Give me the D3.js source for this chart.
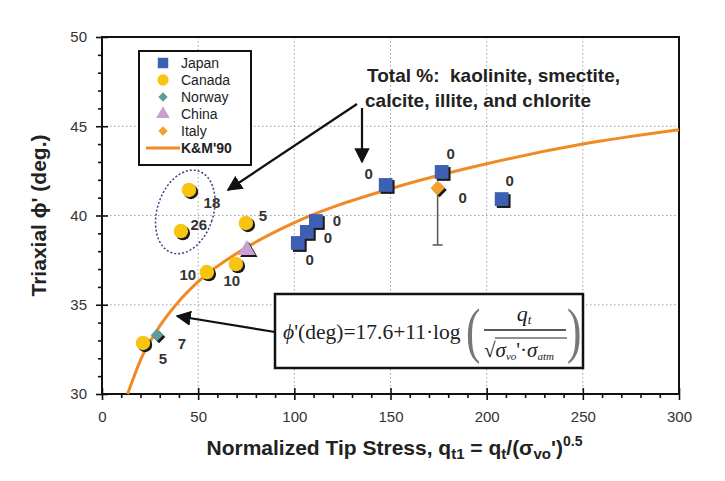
<!DOCTYPE html>
<html>
<head>
    <title>Triaxial phi vs Normalized Tip Stress</title>
    <script src="https://cdnjs.cloudflare.com/ajax/libs/d3/7.8.5/d3.min.js"></script>
    <style>
        body { margin: 0; background: #fff; }
        svg { font-family: Arial, "Liberation Sans", sans-serif; }
        .grid line { stroke: #9aa0b0; stroke-width: 1; stroke-dasharray: 1.5,2.5; }
        .axis path { display: none; }
        .axis line { stroke: #111; stroke-width: 1.6; }
        .axis text { font-size: 15px; fill: #333; }
        .ptlabel { font-size: 15px; font-weight: bold; fill: #333; }
    </style>
</head>
<body>
<div id="chart"></div>
<script>
// ---- data ----
const japanX = [101.8, 106.5, 111.2, 147.5, 176.6, 207.8];
const japanY = [38.46, 39.08, 39.69, 41.71, 42.44, 40.92];
const japanLabels = ["0", "0", "0", "0", "0", "0"];

const canadaX = [45.2, 41.0, 74.8, 69.6, 54.5, 21.3];
const canadaY = [41.43, 39.13, 39.58, 37.28, 36.83, 32.86];
const canadaLabels = ["18", "26", "5", "10", "10", "5"];

const norwayX = [28.6];
const norwayY = [33.3];
const norwayLabels = ["7"];

const chinaX = [75.3];
const chinaY = [38.07];

const italyX = [174.5];
const italyY = [41.54];
const italyLow = [38.35];
const italyLabels = ["0"];

// K&M'90 curve, points
const kmX = [13.3, 15, 20, 30, 40, 50, 75, 100, 150, 200, 250, 300];
const kmY = [30.0, 30.5, 31.9, 33.8, 35.2, 36.3, 38.2, 39.6, 41.5, 42.9, 44.0, 44.8];

const xTicks = [0, 50, 100, 150, 200, 250, 300];
const yTicks = [30, 35, 40, 45, 50];

// label offsets in px (dx, dy) for each point label
const japanOff = [[12, 17], [21, 6], [21, -1], [-17, -11], [9, -18], [8, -19]];
const canadaOff = [[23, 13], [18, -7], [17, -7], [-4, 16], [-19, 2], [20, 16]];
const norwayOff = [[25, 8]];
const italyOff = [[25, 9]];

// ---- layout ----
const W = 725, H = 481;
const pLeft = 102, pRight = 679, pTop = 37, pBottom = 394;

const svg = d3.select("#chart").append("svg")
    .attr("width", W).attr("height", H);

const x = d3.scaleLinear().domain([0, 300]).range([pLeft, pRight]);
const y = d3.scaleLinear().domain([30, 50]).range([pBottom, pTop]);

// grid
const grid = svg.append("g").attr("class", "grid");
grid.selectAll(".gx").data(xTicks.slice(1, -1)).enter().append("line")
    .attr("x1", d => x(d)).attr("x2", d => x(d))
    .attr("y1", pTop).attr("y2", pBottom);
grid.selectAll(".gy").data(yTicks.slice(1, -1)).enter().append("line")
    .attr("x1", pLeft).attr("x2", pRight)
    .attr("y1", d => y(d)).attr("y2", d => y(d));

// axes
const xMinor = d3.range(0, 301, 10).filter(v => v % 50 !== 0);
const yMinor = d3.range(30, 51, 1).filter(v => v % 5 !== 0);

const xAx = svg.append("g").attr("class", "axis")
    .attr("transform", `translate(0,${pBottom})`)
    .call(d3.axisBottom(x).tickValues(xTicks).tickSize(6).tickPadding(11));
xAx.selectAll(".tick line").attr("y1", -6);
svg.append("g").attr("class", "axis")
    .attr("transform", `translate(0,${pBottom})`)
    .call(d3.axisBottom(x).tickValues(xMinor).tickSize(4).tickFormat(""));

const yAx = svg.append("g").attr("class", "axis")
    .attr("transform", `translate(${pLeft},0)`)
    .call(d3.axisLeft(y).tickValues(yTicks).tickSize(6).tickPadding(9));
yAx.selectAll(".tick line").attr("x1", 6);
svg.append("g").attr("class", "axis")
    .attr("transform", `translate(${pLeft},0)`)
    .call(d3.axisLeft(y).tickValues(yMinor).tickSize(4).tickFormat(""));

// plot frame
svg.append("rect")
    .attr("x", pLeft).attr("y", pTop)
    .attr("width", pRight - pLeft).attr("height", pBottom - pTop)
    .attr("fill", "none").attr("stroke", "#111").attr("stroke-width", 2);

// axis titles
const xt = svg.append("text")
    .attr("x", (pLeft + pRight) / 2 + 4).attr("y", 455)
    .attr("text-anchor", "middle")
    .style("font-size", "21px").style("font-weight", "bold").style("fill", "#222");
xt.append("tspan").text("Normalized Tip Stress, q");
xt.append("tspan").attr("baseline-shift", "-25%").style("font-size", "15px").text("t1");
xt.append("tspan").text(" = q");
xt.append("tspan").attr("baseline-shift", "-25%").style("font-size", "15px").text("t");
xt.append("tspan").text("/(σ");
xt.append("tspan").attr("baseline-shift", "-25%").style("font-size", "15px").text("vo");
xt.append("tspan").text("')");
xt.append("tspan").attr("baseline-shift", "65%").style("font-size", "14px").text("0.5");

svg.append("text")
    .attr("transform", `translate(46,${(pTop + pBottom) / 2}) rotate(-90)`)
    .attr("text-anchor", "middle")
    .style("font-size", "21px").style("font-weight", "bold").style("fill", "#222")
    .text("Triaxial ϕ' (deg.)");

// clip for curve
svg.append("clipPath").attr("id", "plotclip").append("rect")
    .attr("x", pLeft).attr("y", pTop).attr("width", pRight - pLeft).attr("height", pBottom - pTop + 4);

const kmData = kmX.map((v, i) => [v, kmY[i]]);
svg.append("path")
    .datum(kmData)
    .attr("clip-path", "url(#plotclip)")
    .attr("fill", "none").attr("stroke", "#f08a24").attr("stroke-width", 3)
    .attr("d", d3.line().x(d => x(d[0])).y(d => y(d[1])).curve(d3.curveMonotoneX));

// ellipse around Canada points
svg.append("ellipse")
    .attr("transform", `translate(${x(43.3)},${y(40.2)}) rotate(18)`)
    .attr("rx", 28).attr("ry", 43)
    .attr("fill", "none").attr("stroke", "#3a3f8a").attr("stroke-width", 1.5)
    .attr("stroke-dasharray", "2,2");

// arrowhead marker
svg.append("defs").append("marker")
    .attr("id", "arrow").attr("viewBox", "0 0 10 10")
    .attr("refX", 9).attr("refY", 5)
    .attr("markerWidth", 7).attr("markerHeight", 7)
    .attr("orient", "auto")
    .append("path").attr("d", "M0,0 L10,5 L0,10 Z").attr("fill", "#111");

function arrow(x1, y1, x2, y2) {
    svg.append("line")
        .attr("x1", x1).attr("y1", y1).attr("x2", x2).attr("y2", y2)
        .attr("stroke", "#111").attr("stroke-width", 2.2)
        .attr("marker-end", "url(#arrow)");
}
arrow(357, 104, 228, 190);
arrow(362, 108, 362, 162);
arrow(275, 332, 177, 316);

// italy error bar
svg.selectAll(".err").data(italyX).enter().append("g").each(function(d, i) {
    const g = d3.select(this);
    g.append("line").attr("x1", x(d)).attr("x2", x(d))
        .attr("y1", y(italyY[i])).attr("y2", y(italyLow[i]))
        .attr("stroke", "#555").attr("stroke-width", 1.5);
    g.append("line").attr("x1", x(d) - 5).attr("x2", x(d) + 5)
        .attr("y1", y(italyLow[i])).attr("y2", y(italyLow[i]))
        .attr("stroke", "#555").attr("stroke-width", 1.5);
});

// marker drawing
const shadow = "#1a1a1a";
const rhombus = d3.symbolDiamond2 || d3.symbolDiamond;
function drawSymbols(xs, ys, sym, size, fill) {
    const pts = xs.map((v, i) => [x(v), y(ys[i])]);
    const g = svg.append("g");
    const path = d3.symbol().type(sym).size(size)();
    g.selectAll(".sh").data(pts).enter().append("path")
        .attr("d", path).attr("fill", shadow)
        .attr("transform", d => `translate(${d[0] + 2},${d[1] + 2})`);
    g.selectAll(".pt").data(pts).enter().append("path")
        .attr("d", path).attr("fill", fill)
        .attr("transform", d => `translate(${d[0]},${d[1]})`);
}
function drawLabels(xs, ys, labels, offs) {
    svg.append("g").selectAll("text").data(labels).enter().append("text")
        .attr("class", "ptlabel")
        .attr("x", (d, i) => x(xs[i]) + offs[i][0])
        .attr("y", (d, i) => y(ys[i]) + offs[i][1])
        .attr("text-anchor", "middle").attr("dominant-baseline", "central")
        .text(d => d);
}

drawSymbols(japanX, japanY, d3.symbolSquare, 190, "#3d5fb4");
drawSymbols(italyX, italyY, rhombus, 130, "#f3a02c");
drawSymbols(canadaX, canadaY, d3.symbolCircle, 165, "#f7c511");
drawSymbols(norwayX, norwayY, rhombus, 100, "#5e9c96");
drawSymbols(chinaX, chinaY, d3.symbolTriangle, 130, "#c9a0d2");

drawLabels(japanX, japanY, japanLabels, japanOff);
drawLabels(canadaX, canadaY, canadaLabels, canadaOff);
drawLabels(norwayX, norwayY, norwayLabels, norwayOff);
drawLabels(italyX, italyY, italyLabels, italyOff);

// legend
const legendItems = [
    {name: "Japan", sym: d3.symbolSquare, size: 110, fill: "#3d5fb4"},
    {name: "Canada", sym: d3.symbolCircle, size: 100, fill: "#f7c511"},
    {name: "Norway", sym: rhombus, size: 55, fill: "#5e9c96"},
    {name: "China", sym: d3.symbolTriangle, size: 80, fill: "#c9a0d2"},
    {name: "Italy", sym: rhombus, size: 55, fill: "#f3a02c"},
    {name: "K&M'90", line: true}
];
const lg = svg.append("g");
lg.append("rect").attr("x", 139).attr("y", 51).attr("width", 112).attr("height", 114)
    .attr("fill", "#fff").attr("stroke", "#111").attr("stroke-width", 2);
legendItems.forEach((d, i) => {
    const cy = 63 + i * 17;
    if (d.line) {
        lg.append("line").attr("x1", 146).attr("x2", 180).attr("y1", cy).attr("y2", cy)
            .attr("stroke", "#f08a24").attr("stroke-width", 3);
    } else {
        lg.append("path").attr("d", d3.symbol().type(d.sym).size(d.size)())
            .attr("transform", `translate(163,${cy})`).attr("fill", d.fill);
    }
    lg.append("text").attr("x", 181).attr("y", cy).attr("dominant-baseline", "central")
        .style("font-size", "14px").style("fill", "#222")
        .style("font-weight", d.line ? "bold" : "normal")
        .text(d.name);
});

// annotation text
const ann = svg.append("text").style("font-size", "19px").style("font-weight", "bold").style("fill", "#222");
ann.append("tspan").attr("x", 367).attr("y", 82).style("white-space", "pre").text("Total %:  kaolinite, smectite,");
ann.append("tspan").attr("x", 365).attr("y", 107).text("calcite, illite, and chlorite");

// formula box
const fb = svg.append("g");
fb.append("rect").attr("x", 275).attr("y", 294).attr("width", 308).attr("height", 74)
    .attr("fill", "#fff").attr("stroke", "#111").attr("stroke-width", 2.5);
const serif = "'Liberation Serif', 'Times New Roman', serif";
const lhs = fb.append("text").attr("x", 283).attr("y", 339)
    .style("font-family", serif).style("font-size", "21.5px").style("fill", "#222");
lhs.append("tspan").style("font-style", "italic").text("ϕ");
lhs.append("tspan").text("'(deg)=17.6+11·log");
fb.append("text").attr("transform", "translate(466,351) scale(0.7,1)")
    .style("font-family", serif).style("font-size", "62px").style("fill", "#777").text("(");
fb.append("text").attr("transform", "translate(567,351) scale(0.7,1)")
    .style("font-family", serif).style("font-size", "62px").style("fill", "#777").text(")");
const num = fb.append("text").attr("x", 524).attr("y", 321).attr("text-anchor", "middle")
    .style("font-family", serif).style("font-size", "22px").style("font-style", "italic").style("fill", "#222");
num.append("tspan").text("q");
num.append("tspan").attr("baseline-shift", "-25%").style("font-size", "13px").text("t");
fb.append("line").attr("x1", 484).attr("x2", 566).attr("y1", 330).attr("y2", 330)
    .attr("stroke", "#222").attr("stroke-width", 1.3);
const den = fb.append("text").attr("x", 484).attr("y", 357)
    .style("font-family", serif).style("font-size", "21px").style("fill", "#222");
den.append("tspan").text("√");
den.append("tspan").style("font-style", "italic").text("σ");
den.append("tspan").attr("baseline-shift", "-25%").style("font-size", "11px").style("font-style", "italic").text("vo");
den.append("tspan").text("'·");
den.append("tspan").style("font-style", "italic").text("σ");
den.append("tspan").attr("baseline-shift", "-25%").style("font-size", "11px").style("font-style", "italic").text("atm");
fb.append("line").attr("x1", 495).attr("x2", 567).attr("y1", 338).attr("y2", 338)
    .attr("stroke", "#222").attr("stroke-width", 1);
</script>
</body>
</html>
